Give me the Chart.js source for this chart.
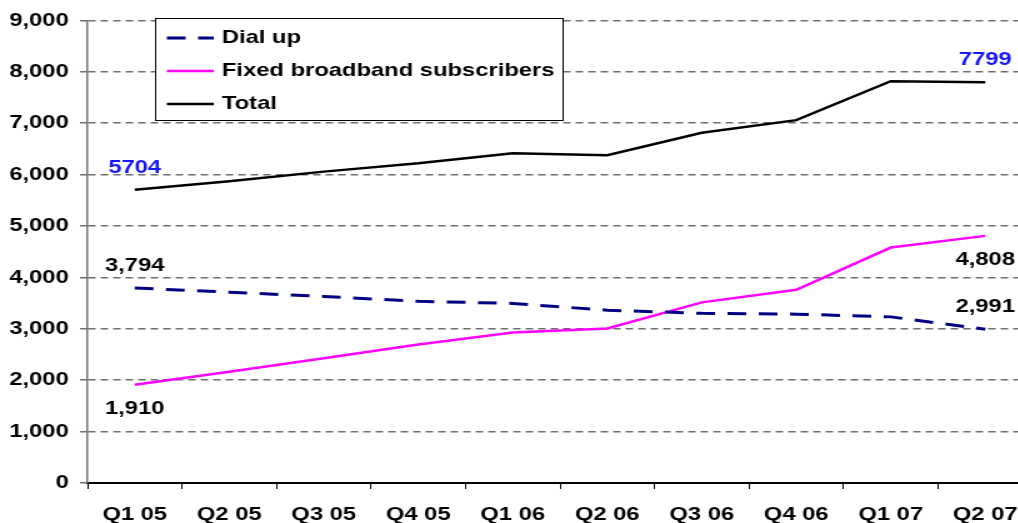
<!DOCTYPE html>
<html>
<head>
<meta charset="utf-8">
<script src="https://cdn.jsdelivr.net/npm/chart.js@4.4.1/dist/chart.umd.min.js"></script>
<style>
  html, body { margin: 0; padding: 0; background: #fff; overflow: hidden; }
  /* the source picture is stretched sideways, so draw narrow and widen */
  #wrap { width: 832px; height: 523px; position: relative; transform: scaleX(1.25); transform-origin: 0 0; }
</style>
</head>
<body>
<div id="wrap"><canvas id="myChart"></canvas></div>
<script>
const quarters = ['Q1 05', 'Q2 05', 'Q3 05', 'Q4 05', 'Q1 06', 'Q2 06', 'Q3 06', 'Q4 06', 'Q1 07', 'Q2 07'];
const dialUp = [3794, 3712, 3630, 3535, 3494, 3362, 3301, 3285, 3232, 2991];
const broadband = [1910, 2165, 2426, 2695, 2928, 3005, 3514, 3758, 4581, 4808];
const total = [5704, 5869, 6058, 6220, 6415, 6378, 6815, 7060, 7818, 7799];

const FONT = 'Liberation Sans, Arial, sans-serif';
const ctx = document.getElementById('myChart');

// value labels on first and last point of each line
const endLabels = {
  id: 'endLabels',
  afterDatasetsDraw(chart) {
    const c = chart.ctx;
    c.save();
    c.font = 'bold 19px ' + FONT;
    c.textAlign = 'center';
    c.textBaseline = 'middle';
    chart.data.datasets.forEach((ds, i) => {
      const meta = chart.getDatasetMeta(i);
      [0, ds.data.length - 1].forEach(idx => {
        const pt = meta.data[idx];
        const v = ds.data[idx];
        const txt = ds.plainLabel ? String(v) : v.toLocaleString('en-US');
        const dy = ds.labelBelow ? 24 : -22;
        c.fillStyle = ds.labelColor;
        c.fillText(txt, pt.x, pt.y + dy);
      });
    });
    c.restore();
  }
};

// boxed legend in the upper left
const boxLegend = {
  id: 'boxLegend',
  afterDraw(chart) {
    const c = chart.ctx;
    const x = 124, y = 18, w = 326, h = 102;
    c.save();
    c.fillStyle = '#fff';
    c.fillRect(x, y, w, h);
    c.strokeStyle = '#000';
    c.lineWidth = 1;
    c.strokeRect(x + 0.5, y + 0.5, w, h);
    c.font = 'bold 19px ' + FONT;
    c.textBaseline = 'middle';
    c.textAlign = 'left';
    chart.data.datasets.forEach((ds, i) => {
      const ly = y + 20 + i * 33;
      c.beginPath();
      c.strokeStyle = ds.borderColor;
      c.lineWidth = ds.borderWidth;
      c.setLineDash(ds.borderDash || []);
      c.moveTo(133.5, ly);
      c.lineTo(171, ly);
      c.stroke();
      c.setLineDash([]);
      c.fillStyle = '#000';
      c.fillText(ds.label, 177.5, ly);
    });
    c.restore();
  }
};

new Chart(ctx, {
  type: 'line',
  data: {
    labels: quarters,
    datasets: [
      {
        label: 'Dial up',
        data: dialUp,
        borderColor: '#000080',
        borderWidth: 3,
        borderDash: [15, 10],
        labelColor: '#000'
      },
      {
        label: 'Fixed broadband subscribers',
        data: broadband,
        borderColor: '#FF00FF',
        borderWidth: 2.5,
        labelColor: '#000',
        labelBelow: true
      },
      {
        label: 'Total',
        data: total,
        borderColor: '#000',
        borderWidth: 2.5,
        labelColor: '#1414FF',
        plainLabel: true
      }
    ]
  },
  options: {
    responsive: true,
    maintainAspectRatio: false,
    animation: false,
    layout: { padding: { left: 0, right: 6, top: 12, bottom: 0 } },
    elements: {
      point: { radius: 0, hoverRadius: 0 },
      line: { tension: 0, fill: false }
    },
    plugins: {
      legend: { display: false },
      tooltip: { enabled: false }
    },
    scales: {
      x: {
        offset: true,
        grid: {
          offset: true,
          drawOnChartArea: false,
          drawTicks: true,
          tickLength: 6,
          color: '#000'
        },
        border: { display: true, color: '#000', width: 2 },
        ticks: {
          color: '#000',
          font: { family: FONT, size: 19, weight: 'bold' },
          padding: 14,
          maxRotation: 0,
          autoSkip: false
        },
        afterFit(scale) { scale.height = 40; }
      },
      y: {
        min: 0,
        max: 9000,
        grid: {
          color: '#6e6e6e',
          lineWidth: 1.5,
          tickLength: 6,
          tickColor: '#6e6e6e',
          tickBorderDash: [1, 0]
        },
        border: { display: true, color: '#707070', width: 1.5, dash: [6, 4] },
        ticks: {
          stepSize: 1000,
          color: '#000',
          font: { family: FONT, size: 19, weight: 'bold' },
          padding: 9
        },
        afterFit(scale) { scale.width = 70; }
      }
    }
  },
  plugins: [endLabels, boxLegend]
});
</script>
</body>
</html>
